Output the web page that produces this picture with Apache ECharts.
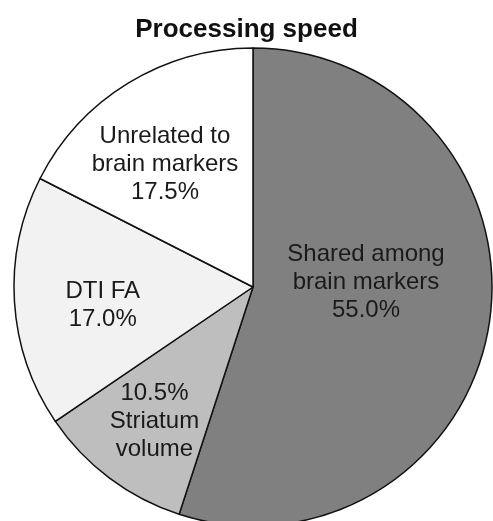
<!DOCTYPE html>
<html>
<head>
<meta charset="utf-8">
<script src="https://cdn.jsdelivr.net/npm/echarts@6/dist/echarts.min.js"></script>
<style>
  html, body { margin: 0; padding: 0; background: #fff; }
  #chart { width: 493px; height: 521px; }
</style>
</head>
<body>
<div id="chart"></div>
<script>
// slices, clockwise from 12 o'clock
const categories = ['Shared among\nbrain markers', 'Striatum\nvolume', 'DTI FA', 'Unrelated to\nbrain markers'];
const values = [55.0, 10.5, 17.0, 17.5];
const colors = ['#808080', '#bebebe', '#f2f2f2', '#ffffff'];

// nudges of the inside labels, to sit where the figure has them
const labelShift = [[-8, -24], [-25, 36], [-28, 11], [-24, -18]];

const chart = echarts.init(document.getElementById('chart'));

chart.setOption({
  animation: false,
  title: {
    text: 'Processing speed',
    left: 'center',
    top: 12,
    textStyle: {
      fontFamily: 'Liberation Sans',
      fontWeight: 'bold',
      fontSize: 26,
      color: '#111'
    }
  },
  series: [
    {
      type: 'pie',
      center: [253, 287],
      radius: 239,
      startAngle: 90,
      clockwise: true,
      silent: true,
      itemStyle: {
        borderColor: '#111',
        borderWidth: 1.5
      },
      label: {
        show: true,
        position: 'inside',
        fontFamily: 'Liberation Sans',
        fontSize: 24,
        lineHeight: 28,
        color: '#1a1a1a',
        align: 'center',
        formatter: (p) => {
          const pct = p.value.toFixed(1) + '%';
          return p.dataIndex === 1 ? pct + '\n' + p.name : p.name + '\n' + pct;
        }
      },
      labelLine: { show: false },
      labelLayout: (p) => ({
        dx: labelShift[p.dataIndex][0],
        dy: labelShift[p.dataIndex][1]
      }),
      data: categories.map((name, i) => ({
        name: name,
        value: values[i],
        itemStyle: { color: colors[i] }
      }))
    }
  ]
});
</script>
</body>
</html>
